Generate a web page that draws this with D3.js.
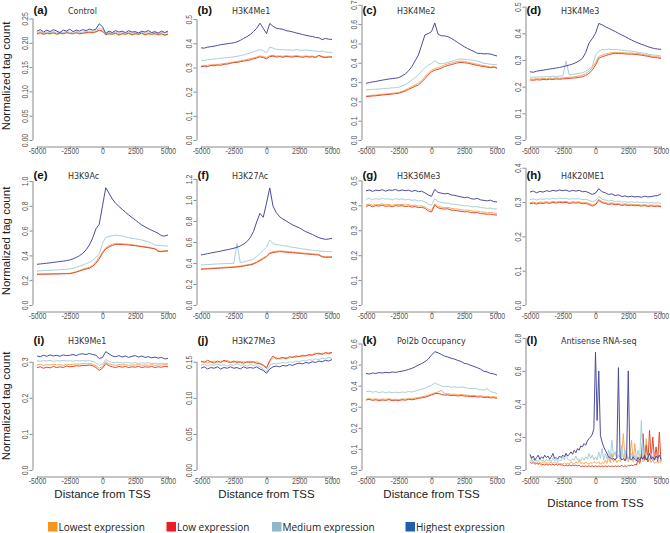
<!DOCTYPE html>
<html>
<head>
<meta charset="utf-8">
<script src="https://cdn.jsdelivr.net/npm/d3@7"></script>
<style>
body { margin: 0; background: #fff; }
</style>
</head>
<body>
<div id="chart"></div>
<script>
//Posiciones (pb respecto al TSS)
const xGrid = [-5000,-4750,-4500,-4250,-4000,-3750,-3500,-3250,-3000,-2750,-2500,-2250,-2000,-1750,-1500,-1250,-1000,-750,-500,-250,0,250,500,750,1000,1250,1500,1750,2000,2250,2500,2750,3000,3250,3500,3750,4000,4250,4500,4750,5000];
const xGridFine = [-5000,-4875,-4750,-4625,-4500,-4375,-4250,-4125,-4000,-3875,-3750,-3625,-3500,-3375,-3250,-3125,-3000,-2875,-2750,-2625,-2500,-2375,-2250,-2125,-2000,-1875,-1750,-1625,-1500,-1375,-1250,-1125,-1000,-875,-750,-625,-500,-375,-250,-125,0,125,250,375,500,625,750,875,1000,1125,1250,1375,1500,1625,1750,1875,2000,2125,2250,2375,2500,2625,2750,2875,3000,3125,3250,3375,3500,3625,3750,3875,4000,4125,4250,4375,4500,4625,4750,4875,5000];
const xTickVals = [-5000, -2500, 0, 2500, 5000];

//Grupos de expresion (orden: lowest, low, medium, highest)
const seriesNames = ['Lowest expression', 'Low expression', 'Medium expression', 'Highest expression'];

const panelLetters = ['(a)','(b)','(c)','(d)','(e)','(f)','(g)','(h)','(i)','(j)','(k)','(l)'];
const panelTitles = ['Control','H3K4Me1','H3K4Me2','H3K4Me3','H3K9Ac','H3K27Ac','H3K36Me3','H4K20ME1','H3K9Me1','H3K27Me3','Pol2b Occupancy','Antisense RNA-seq'];
const yTops = [0.288, 0.579, 0.725, 0.525, 1.129, 1.333, 0.562, 0.408, 0.388, 0.194, 0.664, 0.848];
const yTickLabels = [
    ['0.00','0.05','0.10','0.15','0.20','0.25'],
    ['0.0','0.1','0.2','0.3','0.4','0.5'],
    ['0.0','0.1','0.2','0.3','0.4','0.5','0.6','0.7'],
    ['0.0','0.1','0.2','0.3','0.4','0.5'],
    ['0.0','0.2','0.4','0.6','0.8','1.0'],
    ['0.0','0.2','0.4','0.6','0.8','1.0','1.2'],
    ['0.0','0.1','0.2','0.3','0.4','0.5'],
    ['0.0','0.1','0.2','0.3','0.4'],
    ['0.0','0.1','0.2','0.3'],
    ['0.00','0.05','0.10','0.15'],
    ['0.0','0.1','0.2','0.3','0.4','0.5','0.6'],
    ['0.0','0.2','0.4','0.6','0.8']
];

//Valores por panel
const controlVals = [
    [0.218,0.219,0.217,0.219,0.218,0.220,0.217,0.219,0.218,0.220,0.219,0.218,0.220,0.218,0.219,0.220,0.221,0.220,0.222,0.225,0.223,0.216,0.218,0.217,0.219,0.216,0.218,0.217,0.219,0.216,0.218,0.217,0.219,0.216,0.218,0.217,0.218,0.216,0.218,0.215,0.217],
    [0.219,0.221,0.218,0.220,0.219,0.221,0.218,0.220,0.219,0.221,0.220,0.219,0.221,0.219,0.220,0.221,0.222,0.221,0.223,0.226,0.224,0.217,0.219,0.218,0.220,0.216,0.219,0.218,0.220,0.217,0.219,0.218,0.220,0.217,0.219,0.218,0.219,0.217,0.219,0.216,0.218],
    [0.221,0.223,0.220,0.222,0.221,0.223,0.220,0.222,0.221,0.223,0.222,0.220,0.223,0.221,0.222,0.223,0.224,0.223,0.225,0.230,0.228,0.219,0.221,0.220,0.222,0.219,0.221,0.220,0.222,0.219,0.221,0.220,0.222,0.219,0.221,0.220,0.221,0.219,0.221,0.220,0.221],
    [0.224,0.227,0.222,0.226,0.223,0.227,0.224,0.221,0.226,0.224,0.228,0.223,0.226,0.224,0.227,0.225,0.228,0.226,0.228,0.239,0.233,0.219,0.224,0.221,0.225,0.222,0.224,0.221,0.225,0.222,0.223,0.220,0.224,0.222,0.225,0.221,0.223,0.220,0.224,0.221,0.224]
];
const h3k4me1Vals = [
    [0.306,0.308,0.309,0.311,0.312,0.313,0.314,0.316,0.318,0.320,0.323,0.325,0.327,0.330,0.333,0.336,0.340,0.343,0.348,0.345,0.341,0.349,0.350,0.347,0.348,0.346,0.349,0.347,0.347,0.349,0.347,0.346,0.348,0.346,0.347,0.345,0.349,0.346,0.344,0.346,0.345],
    [0.303,0.305,0.304,0.308,0.307,0.310,0.309,0.313,0.314,0.317,0.320,0.321,0.324,0.326,0.329,0.331,0.336,0.339,0.344,0.341,0.336,0.345,0.347,0.343,0.345,0.342,0.346,0.344,0.343,0.346,0.344,0.342,0.345,0.343,0.344,0.341,0.350,0.343,0.341,0.343,0.342],
    [0.330,0.329,0.332,0.333,0.335,0.336,0.338,0.339,0.341,0.342,0.344,0.346,0.349,0.352,0.356,0.360,0.365,0.369,0.374,0.370,0.360,0.384,0.380,0.375,0.373,0.374,0.372,0.373,0.371,0.374,0.372,0.371,0.373,0.370,0.369,0.368,0.366,0.368,0.364,0.363,0.362],
    [0.381,0.380,0.384,0.386,0.388,0.391,0.394,0.396,0.398,0.400,0.402,0.406,0.412,0.420,0.427,0.436,0.448,0.462,0.483,0.462,0.440,0.482,0.470,0.462,0.460,0.458,0.452,0.450,0.447,0.443,0.440,0.436,0.433,0.430,0.428,0.424,0.423,0.415,0.420,0.417,0.416]
];
const h3k4me2Vals = [
    [0.228,0.230,0.232,0.233,0.235,0.237,0.239,0.240,0.242,0.244,0.246,0.252,0.259,0.268,0.277,0.286,0.294,0.309,0.328,0.346,0.362,0.369,0.374,0.381,0.389,0.394,0.398,0.403,0.407,0.408,0.407,0.404,0.400,0.396,0.392,0.388,0.385,0.381,0.378,0.381,0.375],
    [0.224,0.226,0.228,0.229,0.231,0.233,0.235,0.236,0.238,0.240,0.242,0.248,0.254,0.262,0.270,0.278,0.285,0.300,0.318,0.337,0.354,0.361,0.366,0.372,0.380,0.386,0.390,0.395,0.400,0.401,0.400,0.398,0.394,0.390,0.386,0.383,0.380,0.377,0.374,0.378,0.371],
    [0.259,0.260,0.262,0.263,0.264,0.266,0.267,0.268,0.270,0.271,0.273,0.280,0.288,0.298,0.310,0.323,0.337,0.358,0.375,0.388,0.396,0.411,0.398,0.395,0.397,0.402,0.407,0.412,0.418,0.419,0.418,0.417,0.415,0.412,0.408,0.403,0.397,0.395,0.392,0.391,0.389],
    [0.294,0.297,0.301,0.303,0.307,0.310,0.313,0.316,0.318,0.320,0.323,0.332,0.342,0.358,0.380,0.410,0.440,0.492,0.544,0.551,0.561,0.606,0.548,0.540,0.539,0.535,0.527,0.516,0.505,0.494,0.483,0.474,0.466,0.458,0.449,0.448,0.446,0.447,0.445,0.440,0.435]
];
const h3k4me3Vals = [
    [0.229,0.228,0.230,0.229,0.231,0.230,0.232,0.231,0.233,0.232,0.233,0.234,0.235,0.236,0.238,0.240,0.243,0.249,0.258,0.271,0.290,0.313,0.318,0.322,0.325,0.328,0.329,0.328,0.328,0.327,0.326,0.326,0.325,0.324,0.322,0.320,0.318,0.315,0.313,0.312,0.310],
    [0.225,0.224,0.226,0.225,0.227,0.226,0.228,0.227,0.229,0.228,0.229,0.230,0.231,0.232,0.233,0.235,0.237,0.242,0.250,0.262,0.281,0.306,0.312,0.316,0.320,0.323,0.325,0.324,0.324,0.323,0.322,0.322,0.321,0.320,0.318,0.316,0.314,0.311,0.309,0.308,0.306],
    [0.235,0.236,0.235,0.237,0.236,0.238,0.237,0.239,0.238,0.240,0.240,0.296,0.244,0.246,0.248,0.250,0.252,0.258,0.266,0.275,0.318,0.333,0.340,0.338,0.341,0.339,0.340,0.338,0.337,0.335,0.334,0.333,0.331,0.329,0.327,0.325,0.322,0.320,0.318,0.317,0.315],
    [0.256,0.254,0.258,0.260,0.262,0.264,0.266,0.268,0.270,0.272,0.275,0.278,0.281,0.285,0.290,0.297,0.306,0.328,0.363,0.380,0.400,0.437,0.432,0.425,0.419,0.413,0.407,0.400,0.394,0.388,0.381,0.375,0.369,0.364,0.359,0.355,0.350,0.346,0.343,0.341,0.340]
];
const h3k9acVals = [
    [0.250,0.251,0.251,0.252,0.252,0.253,0.253,0.254,0.255,0.255,0.256,0.262,0.269,0.279,0.289,0.297,0.304,0.322,0.348,0.385,0.428,0.463,0.478,0.490,0.497,0.496,0.494,0.492,0.490,0.486,0.483,0.478,0.474,0.470,0.466,0.461,0.456,0.437,0.434,0.438,0.439],
    [0.247,0.248,0.248,0.249,0.249,0.250,0.250,0.251,0.252,0.252,0.253,0.258,0.265,0.274,0.283,0.290,0.296,0.312,0.336,0.372,0.417,0.452,0.468,0.480,0.489,0.488,0.487,0.486,0.484,0.481,0.478,0.474,0.470,0.466,0.462,0.457,0.452,0.432,0.430,0.434,0.435],
    [0.274,0.276,0.277,0.279,0.280,0.282,0.283,0.285,0.286,0.288,0.290,0.296,0.304,0.313,0.323,0.333,0.344,0.360,0.385,0.410,0.497,0.545,0.552,0.558,0.563,0.560,0.556,0.550,0.543,0.538,0.534,0.529,0.524,0.518,0.510,0.498,0.484,0.480,0.478,0.476,0.476],
    [0.328,0.331,0.334,0.337,0.340,0.344,0.347,0.351,0.354,0.358,0.363,0.372,0.384,0.398,0.417,0.445,0.484,0.540,0.615,0.652,0.800,0.946,0.900,0.855,0.820,0.795,0.772,0.748,0.726,0.705,0.685,0.665,0.645,0.630,0.616,0.603,0.591,0.578,0.559,0.556,0.565]
];
const h3k27acVals = [
    [0.345,0.347,0.349,0.351,0.353,0.355,0.357,0.359,0.361,0.363,0.365,0.368,0.372,0.377,0.382,0.388,0.397,0.413,0.431,0.449,0.468,0.498,0.508,0.512,0.515,0.513,0.510,0.507,0.505,0.502,0.499,0.496,0.493,0.491,0.488,0.485,0.483,0.465,0.460,0.461,0.460],
    [0.340,0.342,0.344,0.345,0.347,0.349,0.351,0.353,0.355,0.357,0.359,0.362,0.366,0.371,0.376,0.382,0.390,0.405,0.422,0.440,0.460,0.490,0.500,0.504,0.508,0.506,0.503,0.500,0.498,0.495,0.492,0.489,0.486,0.484,0.481,0.478,0.476,0.458,0.454,0.455,0.454],
    [0.381,0.383,0.385,0.387,0.389,0.391,0.392,0.394,0.395,0.396,0.397,0.587,0.402,0.410,0.418,0.426,0.435,0.462,0.492,0.520,0.549,0.619,0.584,0.576,0.571,0.566,0.561,0.555,0.549,0.545,0.540,0.535,0.530,0.526,0.522,0.518,0.514,0.512,0.510,0.509,0.508],
    [0.476,0.482,0.489,0.495,0.501,0.507,0.513,0.520,0.526,0.533,0.540,0.550,0.562,0.580,0.603,0.640,0.698,0.790,0.873,0.835,0.970,1.115,0.940,0.880,0.840,0.818,0.800,0.780,0.762,0.748,0.735,0.716,0.698,0.685,0.672,0.655,0.641,0.632,0.625,0.628,0.635]
];
const h3k36me3Vals = [
    [0.402,0.405,0.400,0.404,0.403,0.406,0.402,0.404,0.400,0.404,0.403,0.404,0.401,0.403,0.399,0.401,0.397,0.398,0.394,0.385,0.380,0.406,0.396,0.393,0.391,0.392,0.388,0.386,0.385,0.382,0.381,0.381,0.378,0.376,0.377,0.374,0.373,0.370,0.372,0.369,0.368],
    [0.396,0.400,0.394,0.399,0.397,0.401,0.396,0.398,0.394,0.399,0.397,0.399,0.395,0.397,0.393,0.395,0.391,0.392,0.388,0.378,0.373,0.401,0.390,0.387,0.385,0.386,0.381,0.380,0.378,0.376,0.374,0.375,0.371,0.370,0.371,0.367,0.366,0.364,0.365,0.362,0.361],
    [0.425,0.428,0.423,0.427,0.424,0.428,0.425,0.426,0.422,0.427,0.424,0.426,0.422,0.424,0.420,0.422,0.418,0.419,0.414,0.405,0.401,0.426,0.415,0.412,0.409,0.410,0.405,0.404,0.402,0.400,0.398,0.399,0.395,0.394,0.395,0.391,0.390,0.388,0.389,0.386,0.385],
    [0.458,0.462,0.456,0.461,0.459,0.463,0.457,0.462,0.460,0.464,0.458,0.462,0.459,0.461,0.456,0.460,0.455,0.457,0.450,0.442,0.436,0.464,0.452,0.449,0.446,0.448,0.442,0.440,0.437,0.434,0.431,0.433,0.427,0.425,0.428,0.422,0.420,0.418,0.421,0.415,0.414]
];
const h4k20me1Vals = [
    [0.298,0.300,0.297,0.300,0.299,0.301,0.299,0.302,0.300,0.302,0.301,0.302,0.299,0.301,0.300,0.301,0.298,0.299,0.296,0.292,0.295,0.308,0.301,0.299,0.296,0.298,0.295,0.296,0.293,0.295,0.293,0.294,0.292,0.293,0.291,0.293,0.290,0.292,0.290,0.291,0.289],
    [0.295,0.297,0.294,0.297,0.296,0.298,0.296,0.299,0.297,0.299,0.298,0.299,0.296,0.298,0.297,0.298,0.295,0.296,0.293,0.288,0.292,0.305,0.298,0.296,0.293,0.295,0.292,0.293,0.290,0.292,0.290,0.291,0.289,0.290,0.288,0.290,0.287,0.289,0.287,0.288,0.286],
    [0.307,0.309,0.306,0.309,0.308,0.310,0.308,0.311,0.309,0.312,0.310,0.311,0.308,0.310,0.309,0.310,0.307,0.308,0.305,0.301,0.304,0.316,0.308,0.306,0.303,0.305,0.301,0.303,0.300,0.301,0.299,0.301,0.299,0.300,0.298,0.300,0.297,0.299,0.297,0.298,0.296],
    [0.329,0.332,0.327,0.331,0.329,0.333,0.331,0.334,0.332,0.335,0.333,0.335,0.331,0.334,0.332,0.334,0.330,0.331,0.327,0.322,0.326,0.339,0.330,0.327,0.322,0.324,0.319,0.321,0.316,0.318,0.315,0.317,0.315,0.316,0.314,0.317,0.315,0.316,0.318,0.319,0.324]
];
const h3k9me1Vals = [
    [0.291,0.293,0.290,0.292,0.291,0.293,0.291,0.292,0.290,0.293,0.292,0.293,0.294,0.293,0.295,0.294,0.295,0.293,0.289,0.282,0.287,0.300,0.294,0.292,0.290,0.292,0.291,0.292,0.290,0.291,0.291,0.292,0.290,0.291,0.290,0.292,0.290,0.291,0.291,0.292,0.291],
    [0.284,0.286,0.282,0.285,0.283,0.287,0.284,0.286,0.284,0.288,0.286,0.287,0.289,0.288,0.290,0.289,0.291,0.289,0.284,0.276,0.282,0.295,0.289,0.286,0.284,0.287,0.285,0.287,0.284,0.286,0.285,0.287,0.284,0.286,0.285,0.287,0.284,0.286,0.285,0.287,0.286],
    [0.303,0.301,0.304,0.302,0.304,0.301,0.303,0.302,0.304,0.302,0.303,0.301,0.304,0.302,0.303,0.302,0.303,0.301,0.297,0.290,0.293,0.306,0.301,0.298,0.297,0.299,0.296,0.298,0.297,0.296,0.298,0.295,0.297,0.296,0.297,0.295,0.296,0.294,0.296,0.295,0.295],
    [0.316,0.314,0.318,0.315,0.319,0.316,0.318,0.315,0.319,0.317,0.318,0.320,0.317,0.321,0.322,0.320,0.323,0.320,0.318,0.309,0.312,0.328,0.322,0.316,0.314,0.317,0.313,0.316,0.312,0.315,0.317,0.313,0.316,0.312,0.314,0.311,0.313,0.310,0.312,0.308,0.309]
];
const h3k27me3Vals = [
    [0.149,0.151,0.148,0.150,0.151,0.149,0.151,0.150,0.152,0.150,0.149,0.151,0.149,0.150,0.149,0.151,0.149,0.150,0.148,0.146,0.142,0.150,0.155,0.156,0.153,0.155,0.156,0.155,0.157,0.156,0.158,0.157,0.159,0.158,0.160,0.162,0.160,0.162,0.161,0.163,0.162],
    [0.151,0.149,0.152,0.150,0.148,0.151,0.149,0.152,0.150,0.149,0.151,0.149,0.150,0.148,0.150,0.149,0.150,0.148,0.147,0.145,0.141,0.152,0.158,0.154,0.155,0.156,0.154,0.157,0.156,0.158,0.157,0.159,0.158,0.160,0.159,0.161,0.162,0.160,0.163,0.161,0.163],
    [0.145,0.147,0.144,0.146,0.145,0.147,0.145,0.146,0.144,0.146,0.145,0.147,0.145,0.146,0.144,0.146,0.145,0.146,0.143,0.140,0.136,0.145,0.148,0.147,0.148,0.149,0.148,0.150,0.149,0.151,0.150,0.152,0.151,0.153,0.152,0.154,0.153,0.155,0.154,0.156,0.155],
    [0.141,0.143,0.140,0.142,0.141,0.143,0.140,0.142,0.141,0.143,0.141,0.142,0.140,0.143,0.141,0.142,0.141,0.143,0.140,0.138,0.134,0.140,0.143,0.144,0.143,0.145,0.144,0.146,0.145,0.147,0.148,0.147,0.149,0.148,0.150,0.149,0.151,0.150,0.152,0.151,0.153]
];
const pol2bVals = [
    [0.336,0.339,0.335,0.338,0.334,0.337,0.335,0.338,0.334,0.336,0.334,0.337,0.336,0.339,0.338,0.341,0.344,0.347,0.350,0.355,0.360,0.366,0.370,0.378,0.361,0.362,0.359,0.360,0.357,0.358,0.356,0.355,0.353,0.354,0.351,0.352,0.349,0.350,0.347,0.348,0.345],
    [0.332,0.335,0.330,0.333,0.329,0.332,0.330,0.334,0.329,0.331,0.329,0.333,0.331,0.335,0.333,0.336,0.340,0.342,0.345,0.350,0.356,0.362,0.363,0.359,0.355,0.356,0.353,0.354,0.351,0.353,0.351,0.350,0.348,0.349,0.346,0.347,0.344,0.345,0.342,0.343,0.340],
    [0.371,0.374,0.369,0.372,0.367,0.371,0.366,0.370,0.367,0.369,0.366,0.370,0.368,0.372,0.370,0.374,0.379,0.383,0.388,0.396,0.402,0.414,0.405,0.399,0.395,0.397,0.392,0.395,0.391,0.394,0.392,0.388,0.386,0.388,0.384,0.381,0.379,0.386,0.372,0.368,0.363],
    [0.458,0.455,0.460,0.458,0.462,0.460,0.463,0.461,0.465,0.463,0.466,0.469,0.472,0.477,0.482,0.489,0.498,0.505,0.514,0.526,0.545,0.561,0.556,0.548,0.540,0.536,0.530,0.526,0.520,0.515,0.506,0.503,0.496,0.491,0.485,0.478,0.468,0.465,0.458,0.456,0.450]
];
const antisenseVals = [
    [0.09,0.06,0.05,0.045,0.05,0.04,0.045,0.04,0.05,0.04,0.045,0.04,0.05,0.045,0.04,0.05,0.04,0.045,0.035,0.04,0.035,0.045,0.035,0.04,0.035,0.05,0.04,0.035,0.05,0.04,0.06,0.04,0.045,0.035,0.05,0.04,0.035,0.045,0.04,0.05,0.045,0.04,0.05,0.035,0.045,0.04,0.06,0.04,0.08,0.045,0.1,0.05,0.07,0.045,0.06,0.05,0.09,0.22,0.06,0.1,0.05,0.09,0.18,0.05,0.16,0.06,0.08,0.05,0.1,0.05,0.06,0.19,0.05,0.07,0.045,0.06,0.04,0.05,0.04,0.05,0.04],
    [0.05,0.04,0.045,0.035,0.04,0.035,0.04,0.03,0.035,0.03,0.035,0.03,0.035,0.03,0.035,0.03,0.035,0.03,0.035,0.03,0.03,0.025,0.03,0.025,0.03,0.025,0.03,0.025,0.03,0.025,0.03,0.02,0.025,0.02,0.025,0.02,0.025,0.02,0.025,0.02,0.025,0.02,0.025,0.02,0.025,0.02,0.025,0.02,0.025,0.02,0.025,0.02,0.025,0.02,0.025,0.02,0.03,0.02,0.025,0.02,0.03,0.025,0.03,0.025,0.035,0.03,0.06,0.04,0.08,0.22,0.06,0.15,0.05,0.24,0.07,0.2,0.06,0.14,0.05,0.23,0.05],
    [0.06,0.05,0.065,0.055,0.06,0.05,0.07,0.055,0.06,0.05,0.065,0.055,0.06,0.05,0.07,0.055,0.065,0.05,0.06,0.055,0.08,0.06,0.1,0.065,0.06,0.055,0.07,0.06,0.085,0.06,0.07,0.055,0.075,0.06,0.08,0.065,0.1,0.07,0.09,0.06,0.08,0.06,0.11,0.07,0.13,0.06,0.1,0.065,0.12,0.07,0.18,0.08,0.11,0.07,0.09,0.065,0.15,0.07,0.12,0.065,0.08,0.06,0.1,0.065,0.09,0.06,0.12,0.07,0.30,0.07,0.12,0.06,0.09,0.06,0.1,0.055,0.08,0.06,0.07,0.055,0.06],
    [0.095,0.07,0.085,0.06,0.075,0.09,0.065,0.08,0.07,0.09,0.075,0.085,0.065,0.08,0.10,0.07,0.075,0.065,0.085,0.075,0.09,0.08,0.1,0.085,0.095,0.11,0.095,0.12,0.105,0.13,0.12,0.145,0.14,0.16,0.15,0.175,0.19,0.2,0.215,0.25,0.715,0.3,0.6,0.21,0.17,0.14,0.12,0.1,0.08,0.075,0.065,0.07,0.06,0.075,0.62,0.08,0.06,0.07,0.055,0.075,0.6,0.07,0.06,0.08,0.065,0.055,0.075,0.06,0.08,0.065,0.09,0.06,0.075,0.1,0.065,0.08,0.06,0.085,0.07,0.09,0.065]
];

const panelValues = [controlVals, h3k4me1Vals, h3k4me2Vals, h3k4me3Vals, h3k9acVals, h3k27acVals, h3k36me3Vals, h4k20me1Vals, h3k9me1Vals, h3k27me3Vals, pol2bVals, antisenseVals];
const panelGrids = [xGrid, xGrid, xGrid, xGrid, xGrid, xGrid, xGrid, xGrid, xGrid, xGrid, xGrid, xGridFine];

//Colores
const LINE_COLORS = ['#F6AA5C', '#E14B2C', '#A9CFDA', '#4B4C9C'];
const LEGEND_COLORS = ['#F7941D', '#ED1C24', '#8DB9C8', '#1F5FAD'];
const AXIS_COLOR = '#8a8a8a';
const TICK_TEXT = '#555';

//Layout
const WIDTH = 670, HEIGHT = 533;
const COLS = [37, 201, 366, 530];
const ROWS = [0, 165, 330];
const PLOT_W = 131, ZERO_Y = 140;
const LEGEND_X = [48, 166.5, 272, 405.5];
const TICK_FONT = "'Liberation Sans', Arial, sans-serif";

let svg = d3.select('#chart')
    .append('svg')
    .attr('width', WIDTH)
    .attr('height', HEIGHT);

svg.append('rect').attr('width', WIDTH).attr('height', HEIGHT).attr('fill', '#fff');

panelValues.forEach(function(vals, i) {
    let col = i % 4, row = Math.floor(i / 4);
    let left = COLS[col], top = ROWS[row];

    let x = d3.scaleLinear().domain([-5000, 5000]).range([left, left + PLOT_W]);
    let y = d3.scaleLinear().domain([0, yTops[i]]).range([top + ZERO_Y, top]);

    let g = svg.append('g').attr('class', 'panel panel-' + i);

    //Eje X
    let xa = g.append('g')
        .attr('transform', 'translate(0,' + (top + 146.5) + ')')
        .call(d3.axisBottom(x).tickValues(xTickVals).tickSize(3).tickSizeOuter(0).tickFormat(function(d) { return String(d); }));
    xa.attr('font-family', TICK_FONT).attr('font-size', 8.4);
    xa.select('.domain').attr('stroke', AXIS_COLOR);
    xa.selectAll('.tick line').attr('stroke', AXIS_COLOR);
    xa.selectAll('.tick text')
        .attr('fill', TICK_TEXT)
        .attr('y', 1.5)
        .attr('transform', 'scale(0.82,1)');

    //Eje Y
    let labels = yTickLabels[i];
    let tickVals = labels.map(Number);
    let ya = g.append('g')
        .attr('transform', 'translate(' + (left - 4.5) + ',0)')
        .call(d3.axisLeft(y).tickValues(tickVals).tickSize(3).tickFormat(function(d, k) { return labels[k]; }));
    ya.attr('font-family', TICK_FONT).attr('font-size', 8.4);
    ya.select('.domain').remove();
    ya.append('line')
        .attr('x1', 0.5).attr('x2', 0.5)
        .attr('y1', y(0)).attr('y2', y(tickVals[tickVals.length - 1]))
        .attr('stroke', AXIS_COLOR);
    ya.selectAll('.tick line').attr('stroke', AXIS_COLOR);
    ya.selectAll('.tick text')
        .attr('fill', TICK_TEXT)
        .attr('x', 0)
        .attr('y', -4.5)
        .attr('dy', null)
        .attr('text-anchor', 'middle')
        .attr('transform', 'rotate(-90) scale(0.82,1)');

    //Lineas
    let line = d3.line()
        .x(function(d) { return x(d[0]); })
        .y(function(d) { return y(d[1]); });

    vals.forEach(function(serie, s) {
        g.append('path')
            .datum(d3.zip(panelGrids[i], serie))
            .attr('d', line)
            .attr('fill', 'none')
            .attr('stroke', LINE_COLORS[s])
            .attr('stroke-width', 1)
            .attr('stroke-linejoin', 'round');
    });

    //Titulos
    g.append('text')
        .attr('x', left - 3.5)
        .attr('y', top + 13.5)
        .attr('font-family', TICK_FONT)
        .attr('font-weight', 'bold')
        .attr('font-size', 11.5)
        .attr('fill', '#111')
        .text(panelLetters[i]);

    g.append('text')
        .attr('x', left + 31)
        .attr('y', top + 13.5)
        .attr('font-family', "'DejaVu Sans', sans-serif")
        .attr('font-size', 8)
        .attr('fill', '#333')
        .text(panelTitles[i]);

    if (col == 0) {
        g.append('text')
            .attr('transform', 'translate(10,' + (top + 76) + ') rotate(-90)')
            .attr('text-anchor', 'middle')
            .attr('font-family', TICK_FONT)
            .attr('font-size', 11.5)
            .attr('fill', '#222')
            .text('Normalized tag count');
    }

    if (row == 2) {
        g.append('text')
            .attr('x', left + PLOT_W / 2)
            .attr('y', top + (col == 3 ? 177 : 168))
            .attr('text-anchor', 'middle')
            .attr('font-family', TICK_FONT)
            .attr('font-size', 11.5)
            .attr('fill', '#222')
            .text('Distance from TSS');
    }
});

//Leyenda
let legend = svg.append('g').attr('class', 'legend');
seriesNames.forEach(function(name, s) {
    legend.append('rect')
        .attr('x', LEGEND_X[s])
        .attr('y', 522)
        .attr('width', 9.5)
        .attr('height', 9.5)
        .attr('fill', LEGEND_COLORS[s]);
    legend.append('text')
        .attr('x', LEGEND_X[s] + 10.5)
        .attr('y', 530.5)
        .attr('font-family', "'Open Sans', sans-serif")
        .attr('font-size', 10)
        .attr('fill', '#222')
        .text(name);
});
</script>
</body>
</html>
